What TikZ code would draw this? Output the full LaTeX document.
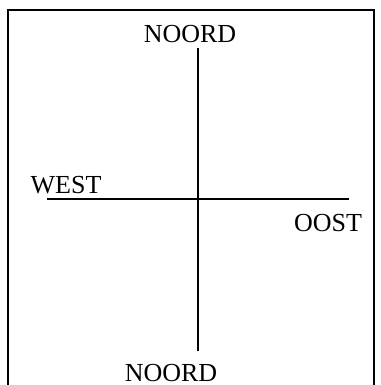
\documentclass[tikz,border=0pt]{standalone}
\usepackage{fontspec}
\setmainfont{Liberation Serif}
\begin{document}
\begin{tikzpicture}[x=0.75pt,y=-0.75pt,
  label/.style={inner sep=0pt, anchor=base, font=\fontsize{19.5}{23}\selectfont},
  axis/.style={line width=1.5pt}]
\useasboundingbox (0,0) rectangle (381,385);
\draw[line width=1.5pt] (8,386) -- (8,10) -- (374,10) -- (374,386);
\node[label] (noord) at (190,43) {NOORD};
\node[label] (zuid) at (171,381) {NOORD};
\node[label] (west) at (66,193) {WEST};
\node[label] (oost) at (328,231) {OOST};
\coordinate (top) at (198,48);
\coordinate (bottom) at (198,351);
\coordinate (left) at (47,199);
\coordinate (right) at (349,199);
\draw[axis] (top) -- (bottom);
\draw[axis] (left) -- (right);
\end{tikzpicture}
\end{document}
